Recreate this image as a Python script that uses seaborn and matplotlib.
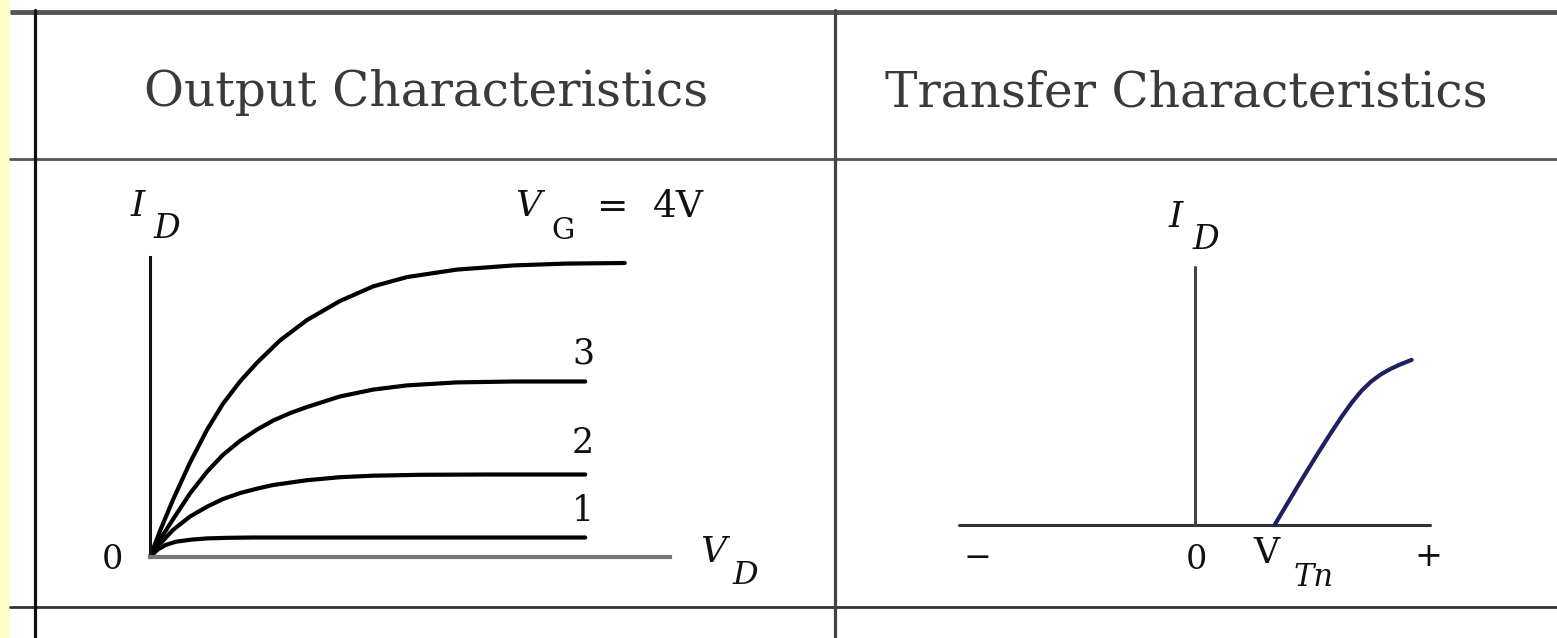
import numpy as np
import pandas as pd
import seaborn as sns
import matplotlib.pyplot as plt

# ----------------------------
# DATA
# ----------------------------
# output characteristics: I_D (normalised) vs V_D for each gate voltage
vg_labels = ["4", "3", "2", "1"]
vd_4v = [0, 0.2, 0.44, 0.77, 1.1, 1.4, 1.73, 2.06, 2.5, 3.02, 3.65, 4.29, 4.94, 5.9, 7.0, 8.0, 9.13]
id_4v = [0, 0.09, 0.19, 0.315, 0.425, 0.51, 0.585, 0.648, 0.722, 0.79, 0.853, 0.902, 0.933,
         0.958, 0.972, 0.978, 0.98]
vd_3v = [0, 0.2, 0.44, 0.77, 1.1, 1.4, 1.73, 2.06, 2.37, 2.7, 3.02, 3.65, 4.29, 4.94, 5.9, 7.0, 8.37]
id_3v = [0, 0.06, 0.125, 0.212, 0.285, 0.34, 0.387, 0.425, 0.455, 0.48, 0.50, 0.535, 0.558,
         0.572, 0.582, 0.585, 0.585]
vd_2v = [0, 0.2, 0.44, 0.77, 1.1, 1.4, 1.73, 2.06, 2.37, 3.02, 3.65, 4.29, 5.2, 6.5, 8.37]
id_2v = [0, 0.045, 0.09, 0.135, 0.168, 0.193, 0.213, 0.228, 0.24, 0.256, 0.266, 0.271, 0.274,
         0.275, 0.275]
vd_1v = [0, 0.15, 0.3, 0.5, 0.8, 1.1, 1.5, 2.0, 8.37]
id_1v = [0, 0.025, 0.04, 0.051, 0.058, 0.062, 0.064, 0.065, 0.065]

# transfer characteristics: I_D vs V_G (starts at V_Tn)
vg_transfer = [1.70, 2.0, 2.3, 2.6, 2.9, 3.14, 3.35, 3.55, 3.75, 3.95, 4.15, 4.35, 4.61]
id_transfer = [0, 0.092, 0.183, 0.272, 0.358, 0.424, 0.477, 0.521, 0.556, 0.583, 0.604, 0.621, 0.640]

headers = ["Output Characteristics", "Transfer Characteristics"]

frames = []
for lab, xs, ys in zip(vg_labels, [vd_4v, vd_3v, vd_2v, vd_1v], [id_4v, id_3v, id_2v, id_1v]):
    frames.append(pd.DataFrame({"vd": xs, "id": ys, "vg": lab}))
df_out = pd.concat(frames, ignore_index=True)
df_tr = pd.DataFrame({"vg": vg_transfer, "id": id_transfer})

# ----------------------------
# STYLE
# ----------------------------
sns.set_theme(style="white")
plt.rcParams["font.family"] = ["DejaVu Serif", "DejaVu Sans"]

W, H = 1557, 638
fig = plt.figure(figsize=(W / 100, H / 100), dpi=100)
fig.patch.set_facecolor("white")

# background layer in pixel coords: table grid + labels
bg = fig.add_axes([0, 0, 1, 1], zorder=0)
bg.set_xlim(0, W)
bg.set_ylim(H, 0)
bg.axis("off")
bg.axvspan(0, 10, color="#FFFFC8", lw=0)
bg.plot([10, W], [12, 12], color="#555555", lw=3.5, solid_capstyle="butt")
bg.plot([10, W], [159, 159], color="#555555", lw=2)
bg.plot([10, W], [607, 607], color="#333333", lw=2)
bg.plot([35, 35], [10, H], color="#111111", lw=2.3)
bg.plot([835, 835], [10, H], color="#444444", lw=2.3)

hdr_kw = dict(ha="center", va="center", fontsize=35, color="#3a3a3a")
bg.text(426, 93, headers[0], **hdr_kw)
bg.text(1186, 93, headers[1], **hdr_kw)

lab_kw = dict(ha="center", va="center", color="#111111")
it = dict(fontstyle="italic", **lab_kw)
# output panel labels
bg.text(138, 206, "I", fontsize=26, **it)
bg.text(167, 229, "D", fontsize=24, **it)
bg.text(528, 206, "V", fontsize=26, **it)
bg.text(563, 231, "G", fontsize=21, **lab_kw)
bg.text(613, 208, "=", fontsize=27, **lab_kw)
bg.text(678, 207, "4V", fontsize=27, **lab_kw)
bg.text(583, 353, "3", fontsize=25, **lab_kw)
bg.text(583, 443, "2", fontsize=25, **lab_kw)
bg.text(583, 511, "1", fontsize=25, **lab_kw)
bg.text(112, 560, "0", fontsize=24, **lab_kw)
bg.text(713, 552, "V", fontsize=26, **it)
bg.text(745, 575, "D", fontsize=23, **it)
# transfer panel labels
bg.text(1176, 217, "I", fontsize=26, **it)
bg.text(1206, 240, "D", fontsize=24, **it)
bg.text(978, 558, "\u2212", fontsize=24, **lab_kw)
bg.text(1196, 560, "0", fontsize=24, **lab_kw)
bg.text(1266, 553, "V", fontsize=26, **lab_kw)
bg.text(1314, 577, "Tn", fontsize=22, **it)
bg.text(1428, 557, "+", fontsize=24, **lab_kw)

# ----------------------------
# OUTPUT CHARACTERISTICS
# ----------------------------
ax1 = fig.add_axes([150 / W, (H - 557) / H, 520 / W, 300 / H], zorder=1)
ax1.patch.set_alpha(0)
sns.lineplot(data=df_out, x="vd", y="id", units="vg", estimator=None, sort=False,
             color="black", lw=3, ax=ax1, legend=False)
for ln in ax1.lines:
    ln.set_clip_on(False)
    ln.set_solid_joinstyle("round")
ax1.set_xlim(0, 10)
ax1.set_ylim(0, 1)
ax1.set_xticks([])
ax1.set_yticks([])
ax1.set_xlabel("")
ax1.set_ylabel("")
for s in ["top", "right"]:
    ax1.spines[s].set_visible(False)
ax1.spines["left"].set_color("#111111")
ax1.spines["left"].set_linewidth(2.2)
ax1.spines["bottom"].set_color("#777777")
ax1.spines["bottom"].set_linewidth(3)

# ----------------------------
# TRANSFER CHARACTERISTICS
# ----------------------------
ax2 = fig.add_axes([959 / W, (H - 525) / H, 471 / W, 258 / H], zorder=1)
ax2.patch.set_alpha(0)
ax2.axhline(0, color="#333333", lw=2.2, clip_on=False)
ax2.axvline(0, color="#444444", lw=2.2, clip_on=False)
sns.lineplot(data=df_tr, x="vg", y="id", color="#1c2160", lw=3, ax=ax2, sort=False)
for ln in ax2.lines:
    ln.set_clip_on(False)
    ln.set_solid_joinstyle("round")
ax2.set_xlim(-5, 5)
ax2.set_ylim(0, 1)
ax2.set_xticks([])
ax2.set_yticks([])
ax2.set_xlabel("")
ax2.set_ylabel("")
for s in ax2.spines.values():
    s.set_visible(False)

fig.savefig("out.png", dpi=100)
